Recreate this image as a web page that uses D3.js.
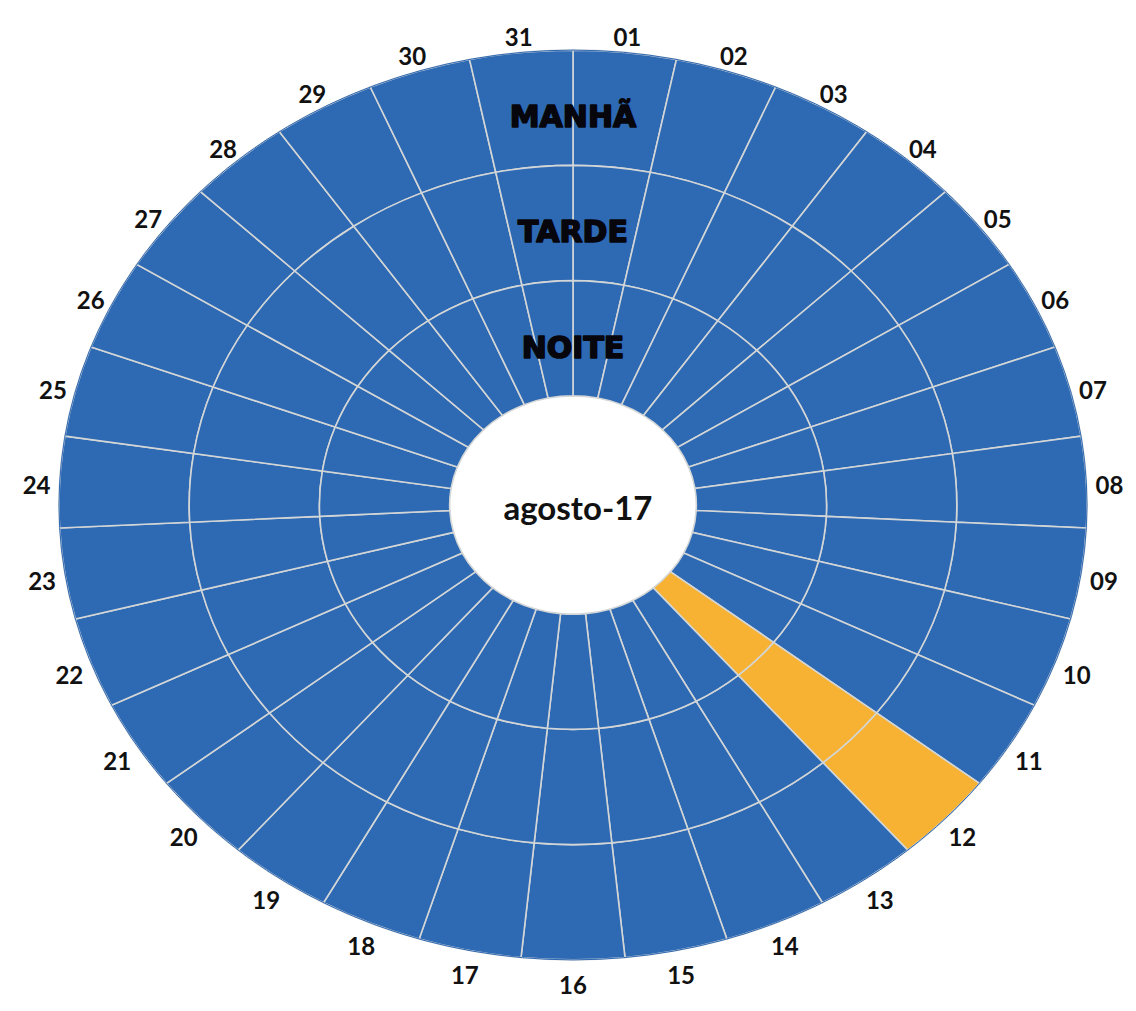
<!DOCTYPE html>
<html>
<head>
<meta charset="utf-8">
<script src="https://cdn.jsdelivr.net/npm/d3@7"></script>
<style>
  body { margin: 0; background: #fff; }
</style>
</head>
<body>
<div id="chart"></div>
<script>
// days of the month, shifts (outer -> inner), and which cells are flagged
const days = d3.range(1, 32).map(d => String(d).padStart(2, "0"));
const shifts = ["MANHÃ", "TARDE", "NOITE"];
const manha = [0,0,0,0,0,0,0,0,0,0,0,1,0,0,0,0,0,0,0,0,0,0,0,0,0,0,0,0,0,0,0];
const tarde = [0,0,0,0,0,0,0,0,0,0,0,1,0,0,0,0,0,0,0,0,0,0,0,0,0,0,0,0,0,0,0];
const noite = [0,0,0,0,0,0,0,0,0,0,0,1,0,0,0,0,0,0,0,0,0,0,0,0,0,0,0,0,0,0,0];
const title = "agosto-17";

const W = 1136, H = 1011;
const cx = 573, cy = 505, R = 514, ky = 0.885;

const svg = d3.select("#chart").append("svg")
  .attr("width", W)
  .attr("height", H);

const angle = d3.scaleBand().domain(days).range([0, 2 * Math.PI]);
const radius = d3.scaleBand().domain(["NOITE", "TARDE", "MANHÃ"]).range([0.24 * R, R]);
const color = d3.scaleOrdinal().domain([0, 1]).range(["#2e69b4", "#f7b234"]);

const cells = [];
[manha, tarde, noite].forEach((vals, i) => {
  vals.forEach((v, j) => cells.push({ shift: shifts[i], day: days[j], v }));
});

const arc = d3.arc()
  .startAngle(d => angle(d.day))
  .endAngle(d => angle(d.day) + angle.bandwidth())
  .innerRadius(d => radius(d.shift))
  .outerRadius(d => radius(d.shift) + radius.bandwidth());

const plot = svg.append("g")
  .attr("transform", `translate(${cx},${cy}) scale(1,${ky})`);

plot.selectAll("path.cell").data(cells).enter().append("path")
  .attr("class", "cell")
  .attr("d", arc)
  .attr("fill", d => color(d.v))
  .attr("stroke", "#d3d6d6")
  .attr("stroke-width", 1.6)
  .attr("vector-effect", "non-scaling-stroke");

// outer edge cleanup
plot.append("circle")
  .attr("r", R)
  .attr("fill", "none")
  .attr("stroke", "#2e69b4")
  .attr("stroke-width", 1)
  .attr("vector-effect", "non-scaling-stroke");

// day labels round the outside
const labR = R * 1.045;
svg.append("g").selectAll("text").data(days).enter().append("text")
  .attr("x", d => cx + labR * Math.sin(angle(d) + angle.bandwidth() / 2))
  .attr("y", d => cy + 4 - labR * ky * Math.cos(angle(d) + angle.bandwidth() / 2))
  .attr("text-anchor", "middle")
  .attr("dominant-baseline", "central")
  .style("font-family", "Lato, 'Open Sans', sans-serif")
  .style("font-weight", "bold")
  .style("font-size", "24px")
  .attr("fill", "#111")
  .text(d => d);

// shift names at the top of each ring
svg.append("g").selectAll("text").data(shifts).enter().append("text")
  .attr("x", cx)
  .attr("y", d => cy - (radius(d) + radius.bandwidth() / 2) * ky + 9)
  .attr("text-anchor", "middle")
  .attr("dominant-baseline", "central")
  .style("font-family", "'DejaVu Sans', sans-serif")
  .style("font-weight", "bold")
  .style("font-size", "30px")
  .attr("fill", "#06060c")
  .attr("stroke", "#06060c")
  .attr("stroke-width", 1.6)
  .attr("stroke-linejoin", "round")
  .text(d => d);

svg.append("text")
  .attr("x", cx + 5)
  .attr("y", cy + 2)
  .attr("text-anchor", "middle")
  .attr("dominant-baseline", "central")
  .style("font-family", "Lato, 'Open Sans', sans-serif")
  .style("font-weight", "bold")
  .style("font-size", "33px")
  .attr("fill", "#111")
  .text(title);
</script>
</body>
</html>
